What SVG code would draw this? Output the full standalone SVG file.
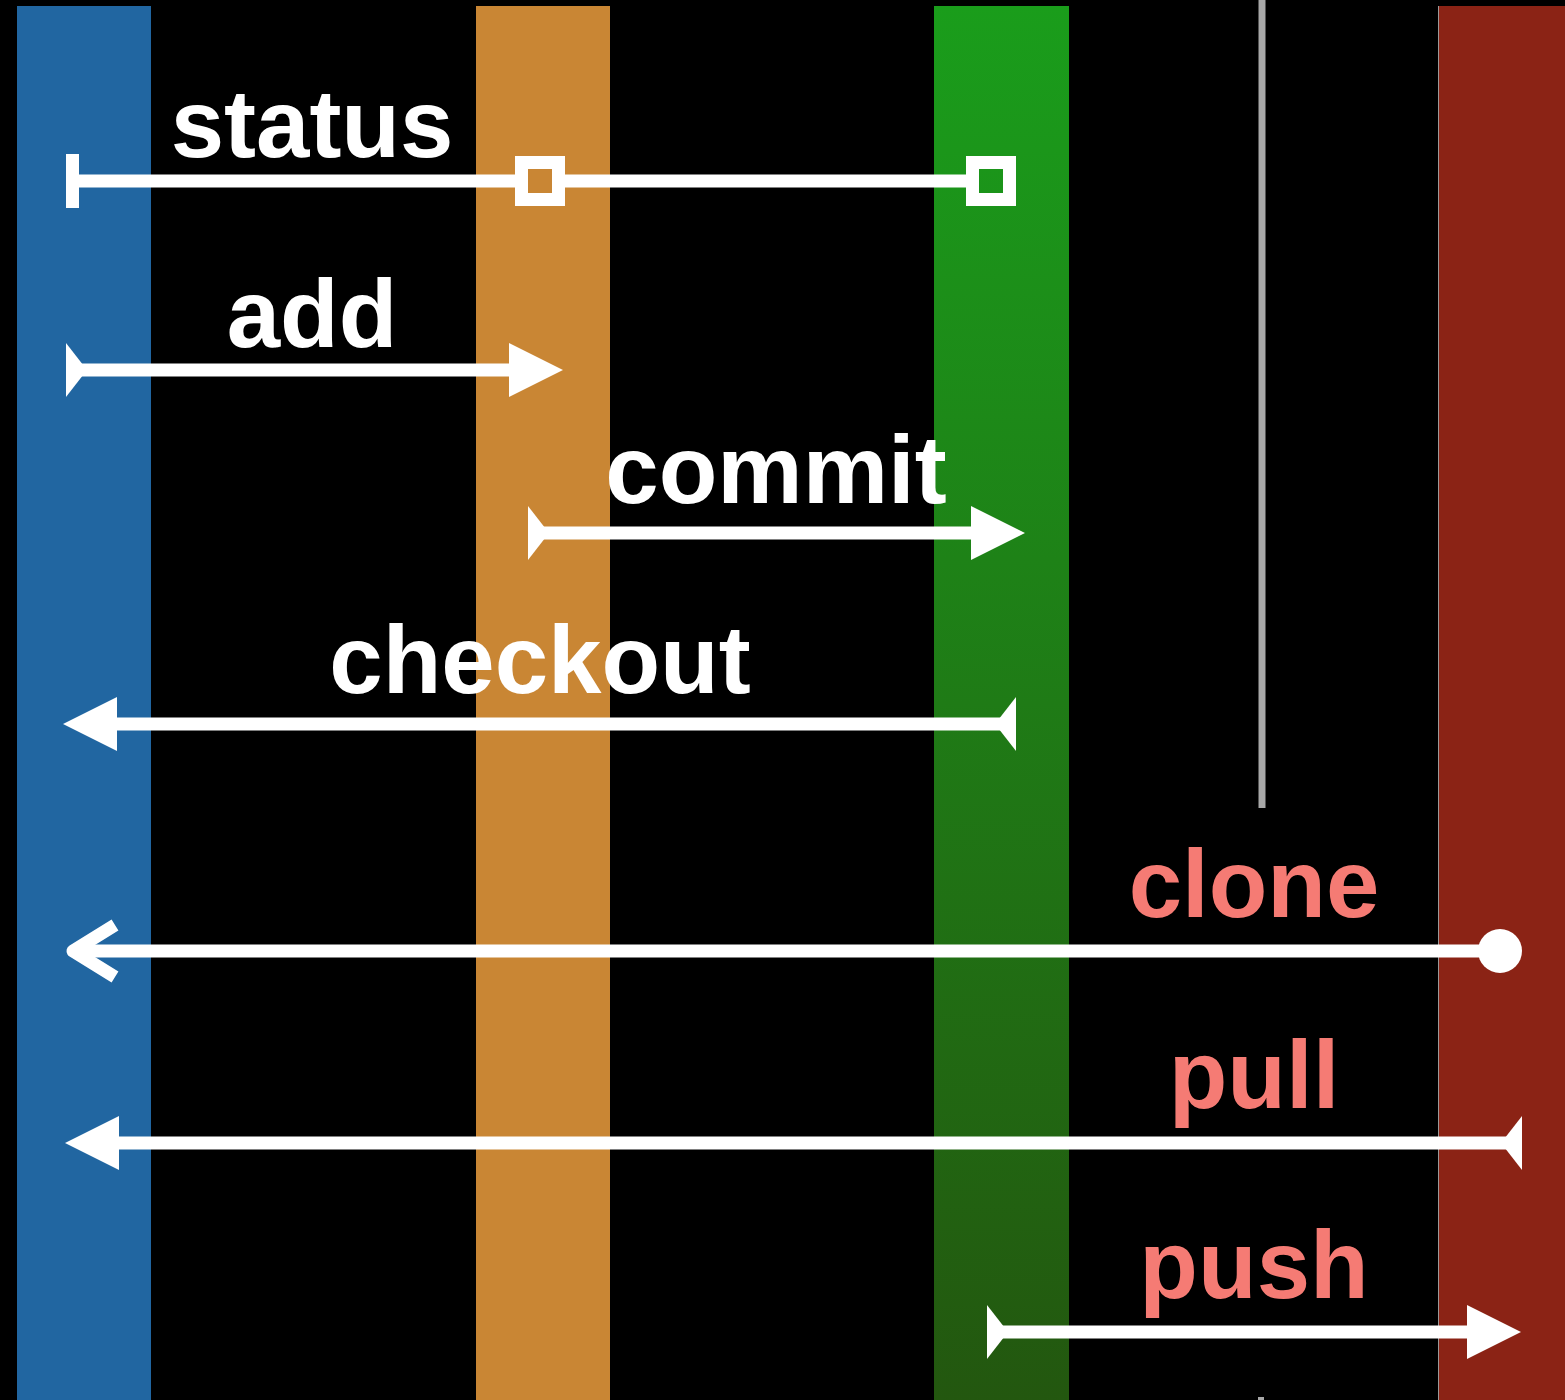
<svg xmlns="http://www.w3.org/2000/svg" width="1565" height="1400" viewBox="0 0 1565 1400">
  <style>
    .lbl { font-family: "Liberation Sans", Arial, Helvetica, sans-serif; font-weight: bold; font-size: 96px; text-anchor: middle; }
    .w { fill: #ffffff; }
    .r { fill: #f57b74; }
    .ln { stroke: #ffffff; stroke-width: 13; fill: none; }
    .sq { stroke: #ffffff; stroke-width: 13; fill: none; }
  </style>
  <defs>
    <linearGradient id="gGreen" x1="0" y1="0" x2="0" y2="1">
      <stop offset="0" stop-color="#1a9d1b"/>
      <stop offset="0.5" stop-color="#1f7b16"/>
      <stop offset="1" stop-color="#23570f"/>
    </linearGradient>
    <marker id="head" markerUnits="userSpaceOnUse" markerWidth="60" markerHeight="60" refX="0" refY="27" orient="auto" overflow="visible">
      <path d="M0,0 L54,27 L0,54 Z" fill="#ffffff"/>
    </marker>
    <marker id="tail" markerUnits="userSpaceOnUse" markerWidth="60" markerHeight="60" refX="0" refY="27" orient="auto" overflow="visible">
      <path d="M0,0 L21,27 L0,54 Z" fill="#ffffff"/>
    </marker>
    <marker id="tee" markerUnits="userSpaceOnUse" markerWidth="20" markerHeight="60" refX="6.5" refY="27" orient="auto" overflow="visible">
      <rect x="0" y="0" width="13" height="54" fill="#ffffff"/>
    </marker>
    <marker id="dot" markerUnits="userSpaceOnUse" markerWidth="50" markerHeight="50" refX="0" refY="0" orient="auto" overflow="visible">
      <circle cx="0" cy="0" r="22" fill="#ffffff"/>
    </marker>
  </defs>

  <rect x="0" y="0" width="1565" height="1400" fill="#000000"/>

  <g id="working-directory">
    <rect x="17" y="6" width="134" height="1394" fill="#2166a1"/>
  </g>
  <g id="staging-area">
    <rect x="476" y="6" width="134" height="1394" fill="#c98634"/>
  </g>
  <g id="local-repository">
    <rect x="934" y="6" width="135" height="1394" fill="url(#gGreen)"/>
  </g>
  <g id="divider">
    <line x1="1262" y1="0" x2="1262" y2="808" stroke="#a8a8a8" stroke-width="7"/>
    <rect x="1258" y="1397" width="6" height="3" fill="#a8a8a8"/>
  </g>
  <g id="remote-repository">
    <rect x="1438" y="6" width="127" height="1394" fill="#8b2315"/>
    <line x1="1438.5" y1="6" x2="1438.5" y2="1400" stroke="#9a9a9a" stroke-width="1"/>
  </g>

  <g id="connectors">
    <!-- status -->
    <line class="ln" x1="72.5" y1="181" x2="515" y2="181" marker-start="url(#tee)"/>
    <line class="ln" x1="565" y1="181" x2="966" y2="181"/>
    <rect class="sq" x="521.5" y="162.5" width="37" height="37"/>
    <rect class="sq" x="972.5" y="162.5" width="37" height="37"/>
    <!-- add -->
    <line class="ln" x1="66" y1="370" x2="509" y2="370" marker-start="url(#tail)" marker-end="url(#head)"/>
    <!-- commit -->
    <line class="ln" x1="528" y1="533" x2="971" y2="533" marker-start="url(#tail)" marker-end="url(#head)"/>
    <!-- checkout -->
    <line class="ln" x1="1016" y1="724" x2="117" y2="724" marker-start="url(#tail)" marker-end="url(#head)"/>
    <!-- clone -->
    <line class="ln" x1="1500" y1="951" x2="74" y2="951" marker-start="url(#dot)"/>
    <polyline class="ln" points="115,925 73,951 115,977" stroke-linejoin="round"/>
    <!-- pull -->
    <line class="ln" x1="1522" y1="1143" x2="119" y2="1143" marker-start="url(#tail)" marker-end="url(#head)"/>
    <!-- push -->
    <line class="ln" x1="987" y1="1332" x2="1467" y2="1332" marker-start="url(#tail)" marker-end="url(#head)"/>
  </g>

  <g id="labels">
    <text class="lbl w" x="312" y="157">status</text>
    <text class="lbl w" x="312" y="347">add</text>
    <text class="lbl w" x="776" y="503">commit</text>
    <text class="lbl w" x="540" y="693">checkout</text>
    <text class="lbl r" x="1254" y="917">clone</text>
    <text class="lbl r" x="1254" y="1108">pull</text>
    <text class="lbl r" x="1254" y="1298">push</text>
  </g>
</svg>
